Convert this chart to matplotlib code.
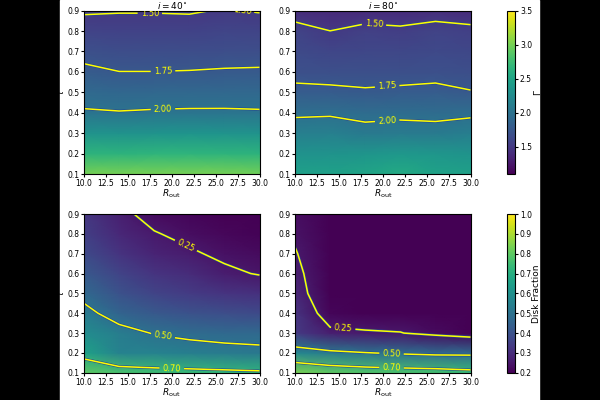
import numpy as np
import matplotlib
matplotlib.use('Agg')
import matplotlib.pyplot as plt
import matplotlib.patheffects as pe
from matplotlib.colors import Normalize

# grid of the simulations
r_out = [10, 14, 18, 22, 26, 30]
tau = [0.1, 0.2, 0.3, 0.4, 0.5, 0.6, 0.7, 0.8, 0.9]

# Gamma, one row per R_out, values along tau
gamma_40 = [
    [3.00, 2.65, 2.33, 2.02, 1.92, 1.79, 1.69, 1.58, 1.48],
    [3.00, 2.64, 2.32, 2.01, 1.89, 1.752, 1.66, 1.57, 1.49],
    [3.00, 2.66, 2.33, 2.02, 1.90, 1.752, 1.66, 1.57, 1.49],
    [3.00, 2.66, 2.34, 2.025, 1.905, 1.757, 1.66, 1.57, 1.485],
    [3.00, 2.65, 2.33, 2.026, 1.905, 1.767, 1.67, 1.59, 1.51],
    [2.98, 2.64, 2.32, 2.02, 1.90, 1.773, 1.67, 1.58, 1.49],
]
gamma_80 = [
    [2.45, 2.32, 2.13, 1.96, 1.80, 1.69, 1.64, 1.58, 1.40],
    [2.46, 2.33, 2.14, 1.97, 1.79, 1.68, 1.60, 1.501, 1.38],
    [2.50, 2.35, 2.07, 1.94, 1.77, 1.68, 1.61, 1.56, 1.39],
    [2.56, 2.38, 2.09, 1.95, 1.785, 1.68, 1.61, 1.535, 1.39],
    [2.48, 2.36, 2.08, 1.94, 1.80, 1.69, 1.63, 1.58, 1.41],
    [2.45, 2.33, 2.12, 1.96, 1.76, 1.67, 1.61, 1.55, 1.39],
]
# disk fraction, same layout
frac_40 = [
    [0.80, 0.657, 0.59, 0.53, 0.47, 0.42, 0.38, 0.35, 0.33],
    [0.77, 0.55, 0.535, 0.455, 0.40, 0.36, 0.32, 0.29, 0.27],
    [0.75, 0.55, 0.495, 0.42, 0.36, 0.32, 0.28, 0.255, 0.223],
    [0.74, 0.54, 0.48, 0.40, 0.34, 0.30, 0.26, 0.23, 0.21],
    [0.73, 0.53, 0.47, 0.39, 0.32, 0.265, 0.235, 0.215, 0.20],
    [0.72, 0.52, 0.47, 0.38, 0.31, 0.245, 0.225, 0.205, 0.195],
]
frac_80 = [
    [0.84, 0.57, 0.34, 0.32, 0.29, 0.27, 0.255, 0.24, 0.23],
    [0.80, 0.53, 0.267, 0.21, 0.18, 0.19, 0.19, 0.19, 0.19],
    [0.78, 0.505, 0.259, 0.20, 0.19, 0.19, 0.19, 0.19, 0.19],
    [0.77, 0.486, 0.253, 0.20, 0.19, 0.19, 0.19, 0.19, 0.19],
    [0.76, 0.471, 0.224, 0.19, 0.19, 0.19, 0.19, 0.19, 0.19],
    [0.74, 0.47, 0.194, 0.19, 0.19, 0.19, 0.19, 0.19, 0.19],
]

gamma_levels = [1.5, 1.75, 2.0]
frac_levels = [0.25, 0.5, 0.7]
titles = [r'$i = 40^{\circ}$', r'$i = 80^{\circ}$']
x_ticks = [10.0, 12.5, 15.0, 17.5, 20.0, 22.5, 25.0, 27.5, 30.0]
y_ticks = [0.1, 0.2, 0.3, 0.4, 0.5, 0.6, 0.7, 0.8, 0.9]

# where the contour labels sit
lab_pos = {
    (0, 0): [(17.5, 0.89), (28.0, 0.895), (19.0, 0.605), (19.0, 0.418)],
    (0, 1): [(19.0, 0.835), (20.5, 0.527), (20.5, 0.36)],
    (1, 0): [(21.6, 0.74), (19.0, 0.287), (20.0, 0.117)],
    (1, 1): [(15.5, 0.327), (21.0, 0.197), (21.0, 0.122)],
}

fig = plt.figure(figsize=(6, 4), dpi=100)
fig.patch.set_facecolor('black')
fig.add_artist(plt.Rectangle((0.1, 0), 0.7983, 1, transform=fig.transFigure,
                             color='white', zorder=-10))

X, Y = np.meshgrid(r_out, tau)
norms = [Normalize(1.1, 3.5), Normalize(0.2, 1.0)]
data = [[gamma_40, gamma_80], [frac_40, frac_80]]
levels = [gamma_levels, frac_levels]

lefts = [0.14, 0.4917]
bottoms = [0.565, 0.068]
heights = [0.4085, 0.397]
line_fx = [pe.withStroke(linewidth=1.9, foreground='#24468f')]

for r in range(2):
    for c in range(2):
        ax = fig.add_axes([lefts[c], bottoms[r], 0.2925, heights[r]])
        Z = np.array(data[r][c]).T
        ax.pcolormesh(X, Y, Z, shading='gouraud', cmap='viridis', norm=norms[r])
        cs = ax.contour(X, Y, Z, levels=levels[r], colors='yellow', linewidths=1.1)
        cs.set_path_effects(line_fx)
        ax.clabel(cs, fmt='%.2f', fontsize=6, colors='yellow',
                  manual=lab_pos[(r, c)], inline_spacing=3)
        ax.set_xlim(10, 30)
        ax.set_ylim(0.1, 0.9)
        ax.set_xticks(x_ticks, [f'{v:.1f}' for v in x_ticks])
        ax.set_yticks(y_ticks)
        ax.tick_params(labelsize=5.5, length=2.5, pad=1)
        ax.set_xlabel(r'$R_{\rm out}$', fontsize=6.5, labelpad=0)
        if c == 0:
            ax.set_ylabel(r'$\tau$', fontsize=6.5, labelpad=1)
        if r == 0:
            ax.set_title(titles[c], fontsize=6.5, pad=1.5)

cb_labels = [r'$\Gamma$', 'Disk Fraction']
cb_ticks = [[1.5, 2.0, 2.5, 3.0, 3.5], np.round(np.arange(0.2, 1.01, 0.1), 1)]
for r in range(2):
    cax = fig.add_axes([0.845, bottoms[r], 0.0135, heights[r]])
    sm = plt.cm.ScalarMappable(norm=norms[r], cmap='viridis')
    cb = fig.colorbar(sm, cax=cax)
    cb.set_ticks(cb_ticks[r])
    cb.ax.tick_params(labelsize=5.5, length=2.5, pad=1)
    cb.set_label(cb_labels[r], fontsize=6.5, labelpad=0)

fig.savefig('out.png', dpi=100)
